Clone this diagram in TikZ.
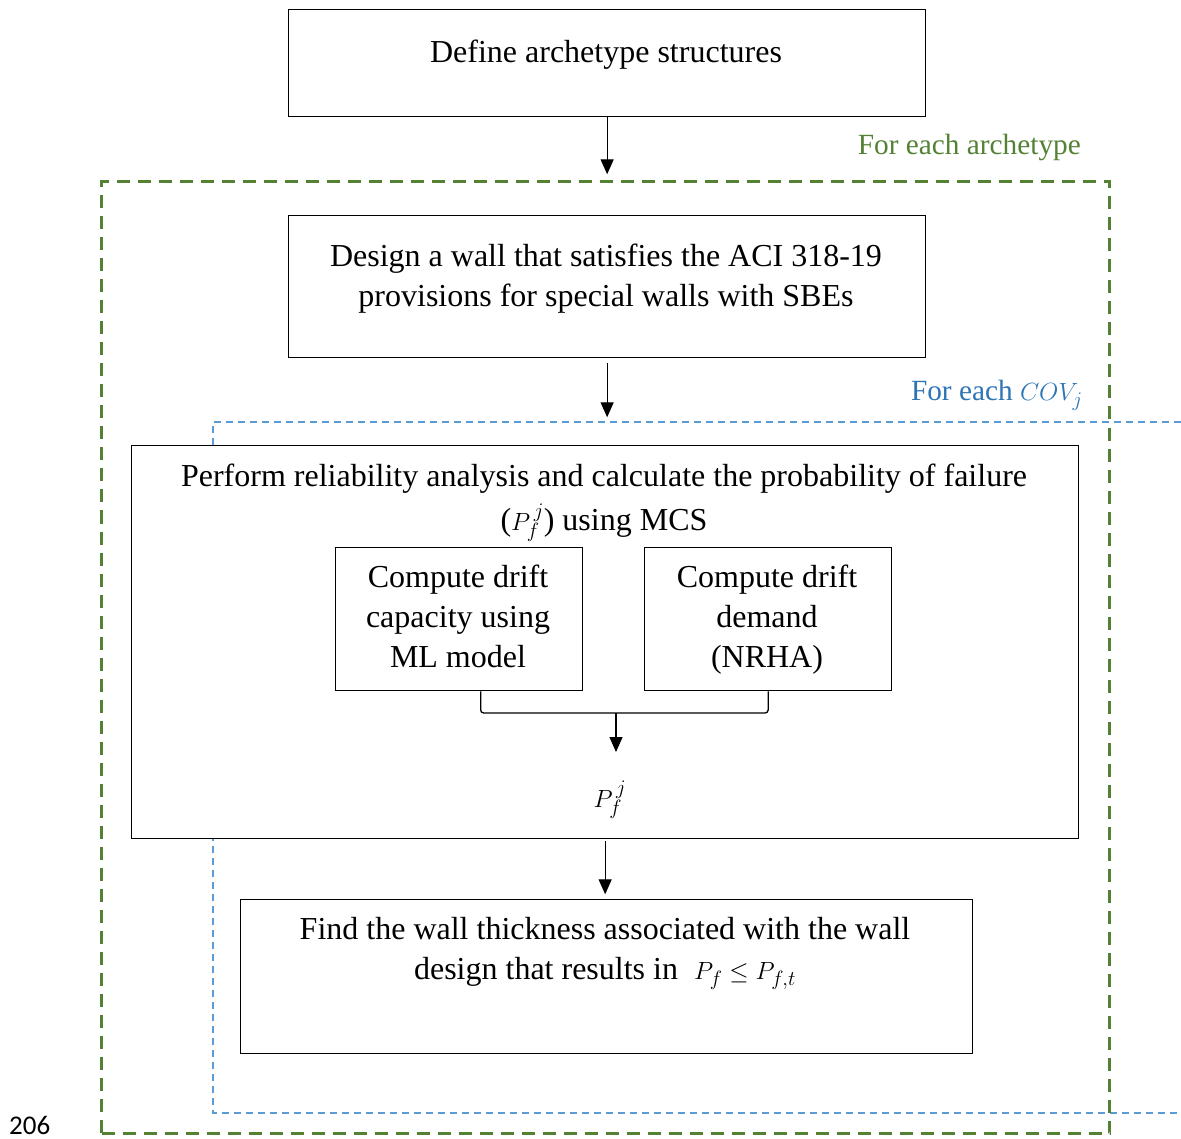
\documentclass[tikz,border=0pt]{standalone}
\usepackage{fontspec}
\setmainfont{Liberation Serif}
\newfontfamily\pagefont{Carlito}
\usetikzlibrary{arrows.meta}
\definecolor{archgreen}{RGB}{84,130,53}
\definecolor{covblue}{RGB}{46,117,182}
\definecolor{covline}{RGB}{91,155,213}
\begin{document}
\begin{tikzpicture}[x=1pt,y=-1pt,
  box/.style={draw=black, line width=1.3pt, fill=white, inner sep=0pt, anchor=north west},
  txt/.style={font=\fontsize{32}{40}\selectfont, align=center, inner sep=0pt, anchor=north},
  arr/.style={-{Triangle[width=13pt,length=15pt]}, line width=1.3pt},
  link/.style={line width=1.3pt, rounded corners=3pt},
  greenbox/.style={draw=archgreen, line width=3pt, dash pattern=on 13pt off 8pt, inner sep=0pt, anchor=north west},
  bluebox/.style={draw=covline, line width=1.3pt, dash pattern=on 7pt off 5pt},
  looplabel/.style={font=\fontsize{29.3}{40}\selectfont, inner sep=0pt, anchor=base east},
]
\useasboundingbox (0,0) rectangle (1181,1139);
\fill[white] (0,0) rectangle (1181,1139);

% blue loop (For each COV_j)
\coordinate (cA) at (1181,422);
\coordinate (cB) at (213,422);
\coordinate (cC) at (213,1113);
\coordinate (cD) at (1181,1113);
\draw[bluebox] (cA) -- (cB) -- (cC) -- (cD);

% green loop (For each archetype)
\node[greenbox, minimum width=1008pt, minimum height=952pt] (arch) at (100,180) {};

% boxes
\node[box, minimum width=637pt, minimum height=107pt] (b1) at (288,9) {};
\node[txt] (t1) at (606,34) {\strut Define archetype structures};

\node[box, minimum width=637pt, minimum height=142pt] (b2) at (288,215) {};
\node[txt] (t2) at (606,238) {\strut Design a wall that satisfies the ACI 318-19\\provisions for special walls with SBEs};

\node[box, minimum width=947pt, minimum height=393pt] (b3) at (131,445) {};
\node[txt] (t3) at (604,458) {\strut Perform reliability analysis and calculate the probability of failure\\[4pt]($P_f^{\,j}$) using MCS};

\node[box, minimum width=247pt, minimum height=143pt] (b4) at (335,547) {};
\node[txt] (t4) at (458,559) {\strut Compute drift\\capacity using\\ML model};

\node[box, minimum width=247pt, minimum height=143pt] (b5) at (644,547) {};
\node[txt] (t5) at (767,559) {\strut Compute drift\\demand\\(NRHA)};

\node[font=\fontsize{32}{40}\selectfont, inner sep=0pt] (pf) at (610,800) {$P_f^{\,j}$};

\node[box, minimum width=732pt, minimum height=154pt] (b6) at (240,899) {};
\node[txt] (t6) at (605,911) {\strut Find the wall thickness associated with the wall\\design that results in \ $P_f\leq P_{f,t}$};

% labels
\node[looplabel, text=archgreen] (lArch) at (1081,155) {For each archetype};
\node[looplabel, text=covblue] (lCov) at (1083,401) {For each $COV_j$};
\node[font=\pagefont\fontsize{27}{32}\selectfont, inner sep=0pt, anchor=base west] (pg) at (9,1134) {206};

% connectors
\draw[arr] (b1.south) -- ++(0,57);
\draw[arr] (b2.south) ++(0,5) -- ++(0,54);
\coordinate (j) at (616,713);
\draw[link] ([xshift=21.5pt]b4.south) |- (j) -| (b5.south);
\draw[arr] (j) -- ++(0,39);
\draw[arr] (b3.south) ++(0,2) -- ++(0,53);
\end{tikzpicture}
\end{document}
